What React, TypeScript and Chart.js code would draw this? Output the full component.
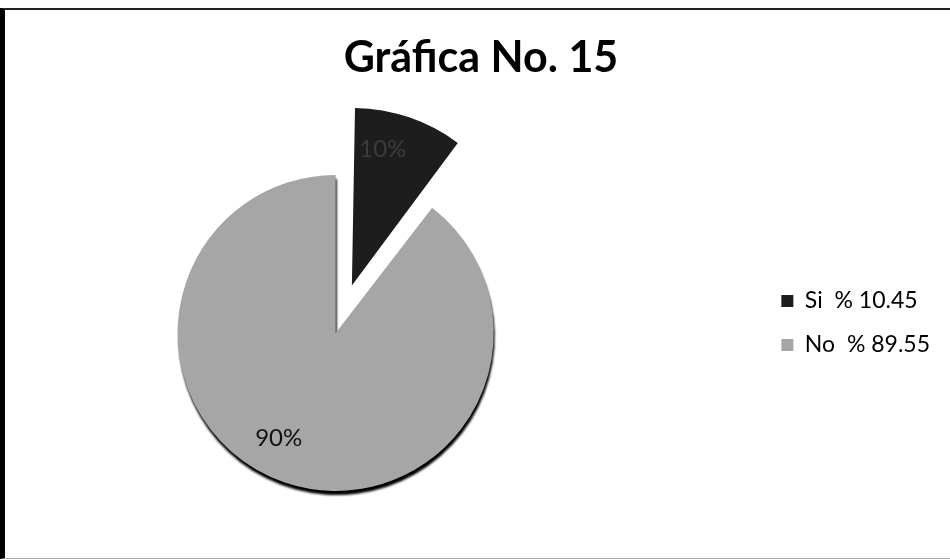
import React, { useEffect, useRef } from "react";
import { Chart, registerables } from "chart.js";

Chart.register(...registerables);

// ---- data ----
const categories = ["Si  % 10.45", "No  % 89.55"];
const values = [10.45, 89.55];
const sliceColors = ["#1d1d1d", "#a6a6a6"];
const labelColors = ["#3c3c3c", "#111111"];
const explode = [201, 0];
const titleText = "Gráfica No. 15";

const FONT = "Lato, Carlito, 'Open Sans', sans-serif";

// percentage labels inside the slices
const pieLabels = {
  id: "pieLabels",
  afterDatasetsDraw(chart: any, _args: any, opts: any) {
    const meta = chart.getDatasetMeta(0);
    const ds = chart.data.datasets[0];
    const data = ds.data as number[];
    const total = data.reduce((a, b) => a + b, 0);
    const ctx = chart.ctx as CanvasRenderingContext2D;
    ctx.save();
    ctx.font = `${opts.size}px ${FONT}`;
    ctx.textAlign = "center";
    ctx.textBaseline = "middle";
    meta.data.forEach((arc: any, i: number) => {
      const p = arc.getProps(["x", "y", "startAngle", "endAngle", "outerRadius", "circumference"], true);
      const mid = (p.startAngle + p.endAngle) / 2;
      const off = (arc.options.offset || 0) / 4;
      const fix = 1 - Math.sin(Math.min(Math.PI, p.circumference || 0));
      const shift = off * (1 + fix);
      const cx = p.x + Math.cos(mid) * shift;
      const cy = p.y + Math.sin(mid) * shift;
      const a = mid + ((opts.angleShift[i] || 0) * Math.PI) / 180;
      const r = p.outerRadius * opts.radius;
      ctx.fillStyle = opts.colors[i];
      ctx.fillText(Math.round((data[i] / total) * 100) + "%", cx + Math.cos(a) * r, cy + Math.sin(a) * r);
    });
    ctx.restore();
  },
};

// dark drop shadow under the main slice
const pieShadow = {
  id: "pieShadow",
  beforeDatasetsDraw(chart: any, _args: any, opts: any) {
    const meta = chart.getDatasetMeta(0);
    const ctx = chart.ctx as CanvasRenderingContext2D;
    meta.data.forEach((arc: any, i: number) => {
      if (!opts.on[i]) return;
      const p = arc.getProps(["x", "y", "startAngle", "endAngle", "outerRadius"], true);
      ctx.save();
      ctx.filter = `blur(${opts.blur}px)`;
      ctx.fillStyle = opts.color;
      ctx.beginPath();
      ctx.moveTo(p.x + opts.dx, p.y + opts.dy);
      ctx.arc(p.x + opts.dx, p.y + opts.dy, p.outerRadius, p.startAngle, p.endAngle);
      ctx.closePath();
      ctx.fill();
      ctx.restore();
    });
  },
};

export default function App() {
  const ref = useRef<HTMLCanvasElement>(null);

  useEffect(() => {
    if (!ref.current) return;
    const chart = new Chart(ref.current, {
      type: "pie",
      data: {
        labels: categories,
        datasets: [
          {
            data: values,
            backgroundColor: sliceColors,
            borderWidth: 0,
            offset: explode,
            radius: 158,
          } as any,
        ],
      },
      options: {
        responsive: false,
        animation: false,
        events: [],
        layout: { padding: { left: 0, right: 0, top: 48, bottom: 0 } },
        plugins: {
          title: {
            display: true,
            text: titleText,
            color: "#000",
            fullSize: true,
            font: { family: FONT, size: 43, weight: "bold", lineHeight: "14px" },
            padding: { top: 3, bottom: 3 },
          },
          subtitle: {
            display: true,
            text: " ",
            position: "right",
            padding: 0,
            font: { size: 1, lineHeight: "111px" },
          },
          legend: {
            display: true,
            position: "right",
            fullSize: true,
            labels: {
              font: { family: FONT, size: 23 },
              color: "#000",
              boxWidth: 12,
              boxHeight: 12,
              padding: 21,
            },
          },
          tooltip: { enabled: false },
          pieLabels: { size: 24, radius: 0.76, angleShift: [-7, 9.5], colors: labelColors },
          pieShadow: { on: [false, true], color: "#000", dx: 1, dy: 4, blur: 1 },
        } as any,
      },
      plugins: [pieShadow, pieLabels],
    });
    return () => chart.destroy();
  }, []);

  return (
    <div style={{ position: "absolute", left: 0, top: 0, width: 950, height: 559, background: "#fff", overflow: "hidden" }}>
      <canvas ref={ref} width={1140} height={598} style={{ position: "absolute", left: -89, top: 0 }} />
      <div
        style={{
          position: "absolute",
          left: 0,
          top: 8,
          width: 950,
          height: 551,
          boxSizing: "border-box",
          borderLeft: "5px solid #000",
          borderTop: "2px solid #222",
          borderBottom: "1px solid #aaa",
          pointerEvents: "none",
        }}
      />
    </div>
  );
}
